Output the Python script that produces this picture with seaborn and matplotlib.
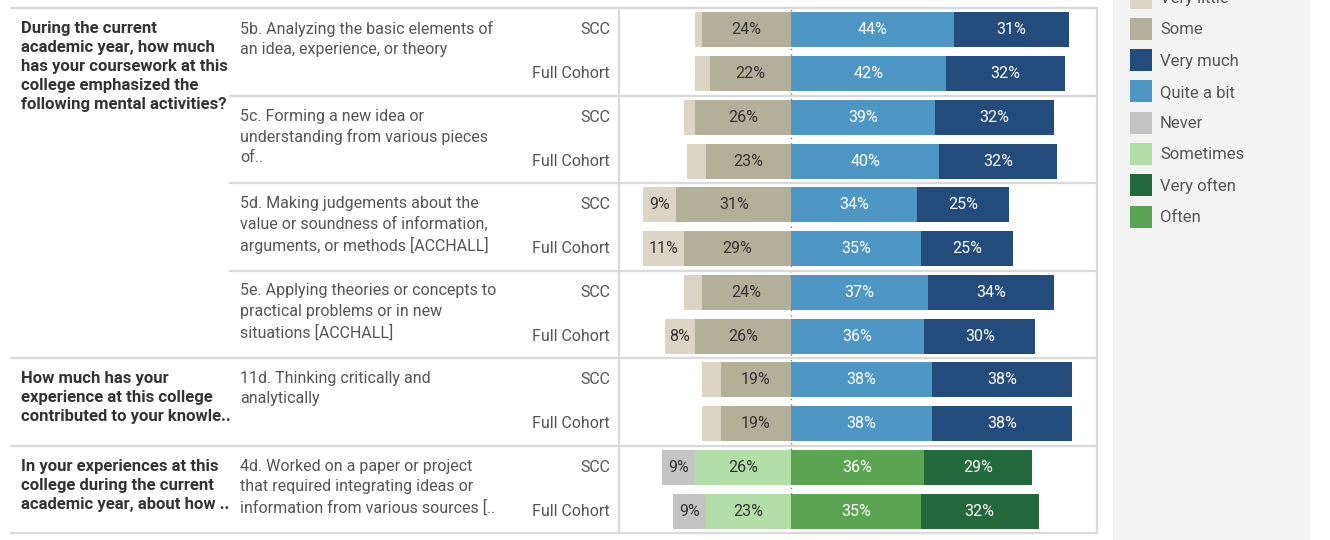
import matplotlib
matplotlib.use("Agg")
import matplotlib.pyplot as plt
import matplotlib.patches as mpatches
import seaborn as sns
import pandas as pd

W, H = 1330, 540

# question text (left column), one per block of items
questions = [
    "During the current\nacademic year, how much\nhas your coursework at this\ncollege emphasized the\nfollowing mental activities?",
    "How much has your\nexperience at this college\ncontributed to your knowle..",
    "In your experiences at this\ncollege during the current\nacademic year, about how ..",
]
# items and which question they belong to
items = [
    "5b. Analyzing the basic elements of\nan idea, experience, or theory",
    "5c. Forming a new idea or\nunderstanding from various pieces\nof..",
    "5d. Making judgements about the\nvalue or soundness of information,\narguments, or methods [ACCHALL]",
    "5e. Applying theories or concepts to\npractical problems or in new\nsituations [ACCHALL]",
    "11d. Thinking critically and\nanalytically",
    "4d. Worked on a paper or project\nthat required integrating ideas or\ninformation from various sources [..",
]
item_question = [0, 0, 0, 0, 1, 2]
item_scale = ["much", "much", "much", "much", "much", "often"]
cohorts = ["SCC", "Full Cohort"]

# values per row (SCC, Full Cohort for each item), in percent
low_outer = [2, 4, 3, 5, 9, 11, 5, 8, 5, 5, 9, 9]        # Very little / Never
low_inner = [24, 22, 26, 23, 31, 29, 24, 26, 19, 19, 26, 23]  # Some / Sometimes
high_inner = [44, 42, 39, 40, 34, 35, 37, 36, 38, 38, 36, 35]  # Quite a bit / Often
high_outer = [31, 32, 32, 32, 25, 25, 34, 30, 38, 38, 29, 32]  # Very much / Very often

scale_colors = {
    "much": {"low_outer": "#dcd5c6", "low_inner": "#b3b09a",
             "high_inner": "#4e97c4", "high_outer": "#234b7b"},
    "often": {"low_outer": "#c4c4c4", "low_inner": "#b1dfa7",
              "high_inner": "#5ba552", "high_outer": "#24693c"},
}
legend_labels = ["Very little", "Some", "Very much", "Quite a bit",
                 "Never", "Sometimes", "Very often", "Often"]
legend_colors = ["#dcd5c6", "#b3b09a", "#234b7b", "#4e97c4",
                 "#c4c4c4", "#b1dfa7", "#24693c", "#5ba552"]

# build the long table
rows = []
for i, code in enumerate(items):
    for c in cohorts:
        rows.append({"row": f"{code.split('.')[0]} | {c}", "cohort": c,
                     "scale": item_scale[i]})
df = pd.DataFrame(rows)
df["low_outer"] = low_outer
df["low_inner"] = low_inner
df["high_inner"] = high_inner
df["high_outer"] = high_outer
df["neg_outer"] = -(df["low_outer"] + df["low_inner"])
df["neg_inner"] = -df["low_inner"]
df["pos_outer"] = df["high_inner"] + df["high_outer"]
df["pos_inner"] = df["high_inner"]
order = df["row"].tolist()

sns.set_theme(style="white")
plt.rcParams["font.family"] = ["Roboto", "DejaVu Sans"]

fig = plt.figure(figsize=(W / 100, H / 100), dpi=100)
fig.patch.set_facecolor("white")


def fx(px):
    return px / W


def fy(py):
    return 1 - py / H


ax = fig.add_axes([fx(619), fy(533), fx(1097) - fx(619), fy(8) - fy(533)])

ax.axvline(0, color="#777777", ls=(0, (1, 3)), lw=1, zorder=0)

# stacked diverging bars: outer totals first, inner segments drawn over them
layers = [("neg_outer", "low_outer"), ("neg_inner", "low_inner"),
          ("pos_outer", "high_outer"), ("pos_inner", "high_inner")]
for col, seg in layers:
    pal = {r: scale_colors[s][seg] for r, s in zip(df["row"], df["scale"])}
    sns.barplot(data=df, x=col, y="row", hue="row", order=order, hue_order=order,
                palette=pal, legend=False, width=0.8, saturation=1,
                errorbar=None, orient="h", ax=ax, linewidth=0, zorder=2)

ax.set_xlim(-46.5, 82.7)
ax.set_ylim(len(order) - 0.5, -0.5)
ax.set_xlabel("")
ax.set_ylabel("")
ax.set_xticks([])
ax.set_yticks([])
for s in ax.spines.values():
    s.set_visible(False)
ax.patch.set_alpha(0)

# percent labels
for i, r in df.iterrows():
    segs = [
        (-r["low_inner"] - r["low_outer"] / 2, r["low_outer"], "#333333"),
        (-r["low_inner"] / 2, r["low_inner"], "#333333"),
        (r["high_inner"] / 2, r["high_inner"], "white"),
        (r["high_inner"] + r["high_outer"] / 2, r["high_outer"], "white"),
    ]
    for xc, v, col in segs:
        if v >= 7:
            ax.text(xc, i, f"{v}%", ha="center", va="center", color=col,
                    fontsize=11.5, zorder=5)

# cohort labels
for i, r in df.iterrows():
    y_px = 8 + (i + 0.5) * 43.75
    fig.text(fx(610), fy(y_px), r["cohort"], ha="right", va="center",
             color="#555555", fontsize=11.5)

# item and question text
band = 87.5
for i, txt in enumerate(items):
    top = 8 + i * band
    fig.text(fx(240), fy(top + 13), txt, ha="left", va="top", color="#555555",
             fontsize=11.5, linespacing=1.43)
q_first = {}
for i, q in enumerate(item_question):
    q_first.setdefault(q, i)
for q, txt in enumerate(questions):
    top = 8 + q_first[q] * band
    fig.text(fx(21), fy(top + 13), txt, ha="left", va="top", color="#333333",
             fontsize=12, fontweight="bold", linespacing=1.34)

# separator lines
line_kw = dict(color="#d9d9d9", lw=1.6, transform=fig.transFigure)
for k in range(7):
    y = 8 + k * band
    x0 = 230 if k in (1, 2, 3) else 11
    fig.add_artist(plt.Line2D([fx(x0), fx(1097)], [fy(y), fy(y)], **line_kw))
for x in (619, 1097):
    fig.add_artist(plt.Line2D([fx(x), fx(x)], [fy(8), fy(533)], **line_kw))

# legend panel
fig.add_artist(mpatches.Rectangle((fx(1113), 0), fx(1310) - fx(1113), 1,
                                  transform=fig.transFigure, facecolor="#f3f3f3",
                                  edgecolor="none", zorder=0))
handles = [mpatches.Patch(facecolor=c, edgecolor="none") for c in legend_colors]
fig.legend(handles, legend_labels, loc="upper left",
           bbox_to_anchor=(fx(1130), fy(-13.4)), frameon=False, fontsize=12,
           handlelength=1.32, handleheight=1.65, handletextpad=0.48,
           labelspacing=0.56, borderpad=0, borderaxespad=0, labelcolor="#555555")

fig.savefig("out.png", dpi=100, facecolor="white")
